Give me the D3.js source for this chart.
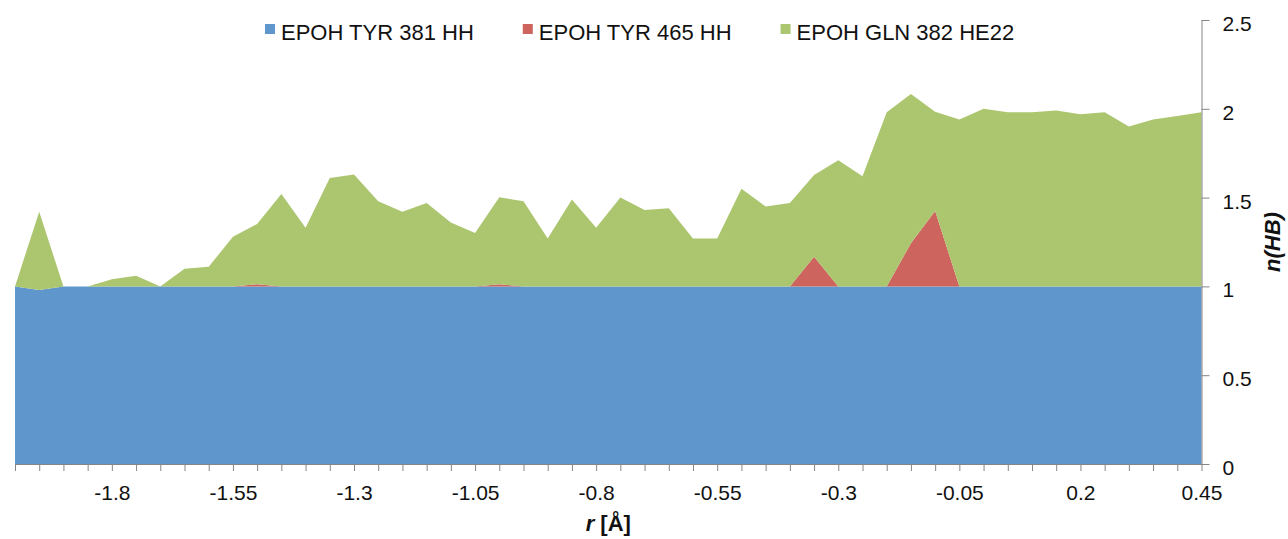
<!DOCTYPE html>
<html>
<head>
<meta charset="utf-8">
<script src="https://cdn.jsdelivr.net/npm/d3@7"></script>
<style>
  body { margin: 0; background: #fff; }
  svg { display: block; font-family: "Liberation Sans", Arial, sans-serif; }
</style>
</head>
<body>
<svg id="chart" width="1288" height="539"></svg>
<script>
// categories (r in Angstrom)
const rValues = [-2.0, -1.95, -1.9, -1.85, -1.8, -1.75, -1.7, -1.65, -1.6, -1.55,
  -1.5, -1.45, -1.4, -1.35, -1.3, -1.25, -1.2, -1.15, -1.1, -1.05,
  -1.0, -0.95, -0.9, -0.85, -0.8, -0.75, -0.7, -0.65, -0.6, -0.55,
  -0.5, -0.45, -0.4, -0.35, -0.3, -0.25, -0.2, -0.15, -0.1, -0.05,
  0.0, 0.05, 0.1, 0.15, 0.2, 0.25, 0.3, 0.35, 0.4, 0.45];

const tyr381 = [1.0, 0.98, 1.0, 1.0, 1.0, 1.0, 1.0, 1.0, 1.0, 1.0,
  1.0, 1.0, 1.0, 1.0, 1.0, 1.0, 1.0, 1.0, 1.0, 1.0,
  1.0, 1.0, 1.0, 1.0, 1.0, 1.0, 1.0, 1.0, 1.0, 1.0,
  1.0, 1.0, 1.0, 1.0, 1.0, 1.0, 1.0, 1.0, 1.0, 1.0,
  1.0, 1.0, 1.0, 1.0, 1.0, 1.0, 1.0, 1.0, 1.0, 1.0];

const tyr465 = [0, 0, 0, 0, 0, 0, 0, 0, 0, 0,
  0.012, 0, 0, 0, 0, 0, 0, 0, 0, 0,
  0.012, 0, 0, 0, 0, 0, 0, 0, 0, 0,
  0, 0, 0, 0.167, 0, 0, 0, 0.243, 0.424, 0,
  0, 0, 0, 0, 0, 0, 0, 0, 0, 0];

const gln382 = [0, 0.44, 0, 0, 0.04, 0.06, 0, 0.10, 0.11, 0.28,
  0.34, 0.52, 0.33, 0.61, 0.63, 0.48, 0.42, 0.47, 0.36, 0.30,
  0.49, 0.48, 0.27, 0.49, 0.33, 0.50, 0.43, 0.44, 0.27, 0.27,
  0.55, 0.45, 0.47, 0.46, 0.71, 0.62, 0.98, 0.84, 0.56, 0.94,
  1.00, 0.98, 0.98, 0.99, 0.97, 0.98, 0.90, 0.94, 0.96, 0.98];

const xTickLabels = ["-1.8", "-1.55", "-1.3", "-1.05", "-0.8", "-0.55", "-0.3", "-0.05", "0.2", "0.45"];
const yTicks = [0, 0.5, 1, 1.5, 2, 2.5];

const seriesNames = ["EPOH TYR 381 HH", "EPOH TYR 465 HH", "EPOH GLN 382 HE22"];
const colors = ["#5f96cb", "#cd645d", "#acc56f"];

const svg = d3.select("#chart");
const margin = { top: 20, right: 86, bottom: 75, left: 15 };
const width = 1288, height = 539;

const rows = rValues.map((r, i) => ({ r: r, s0: tyr381[i], s1: tyr465[i], s2: gln382[i] }));
const stack = d3.stack().keys(["s0", "s1", "s2"]);
const layers = stack(rows);

const x = d3.scaleLinear()
  .domain([d3.min(rValues), d3.max(rValues)])
  .range([margin.left, width - margin.right - 0.5]);

const y = d3.scaleLinear()
  .domain([0, 2.5])
  .range([height - margin.bottom, margin.top]);

const area = d3.area()
  .x(d => x(d.data.r))
  .y0(d => y(d[0]))
  .y1(d => y(d[1]));

// stacked areas
svg.append("g")
  .selectAll("path")
  .data(layers)
  .enter()
  .append("path")
  .attr("d", area)
  .attr("fill", (d, i) => colors[i]);

// x axis: tick at every category, label every 5th
const xAxis = d3.axisBottom(x)
  .tickValues(rValues)
  .tickFormat(d => xTickLabels.includes(String(d)) ? String(d) : "")
  .tickSize(7)
  .tickSizeOuter(0)
  .tickPadding(14);

const gx = svg.append("g")
  .attr("transform", `translate(0, ${y(0)})`)
  .call(xAxis);

// y axis on the right
const yAxis = d3.axisRight(y)
  .tickValues(yTicks)
  .tickFormat(d => String(d))
  .tickSize(8)
  .tickSizeOuter(0)
  .tickPadding(13);

const gy = svg.append("g")
  .attr("transform", `translate(${x(0.45)}, 0)`)
  .call(yAxis);

gy.selectAll("text").attr("dy", "0.5em");

[gx, gy].forEach(g => {
  g.select(".domain").attr("stroke", "#868686");
  g.selectAll(".tick line").attr("stroke", "#868686");
  g.selectAll("text")
    .attr("font-size", 21)
    .attr("font-family", "'Liberation Sans', Arial, sans-serif")
    .attr("fill", "#111");
});

// axis titles
svg.append("text")
  .attr("x", (x.range()[0] + x.range()[1]) / 2)
  .attr("y", 531)
  .attr("text-anchor", "middle")
  .attr("font-size", 22)
  .attr("font-weight", "bold")
  .attr("fill", "#111")
  .call(t => {
    t.append("tspan").attr("font-style", "italic").text("r");
    t.append("tspan").text(" [Å]");
  });

svg.append("text")
  .attr("transform", "translate(1280, 242) rotate(-90)")
  .attr("text-anchor", "middle")
  .attr("font-size", 22)
  .attr("font-weight", "bold")
  .attr("font-style", "italic")
  .attr("fill", "#111")
  .text("n(HB)");

// legend
const legend = svg.append("g");
let lx = 265;
seriesNames.forEach((name, i) => {
  legend.append("rect")
    .attr("x", lx)
    .attr("y", 24)
    .attr("width", 10)
    .attr("height", 10)
    .attr("fill", colors[i]);
  const t = legend.append("text")
    .attr("x", lx + 16)
    .attr("y", 40)
    .attr("font-size", 22)
    .attr("fill", "#111")
    .text(name);
  lx += 16 + t.node().getComputedTextLength() + 49;
});
</script>
</body>
</html>
